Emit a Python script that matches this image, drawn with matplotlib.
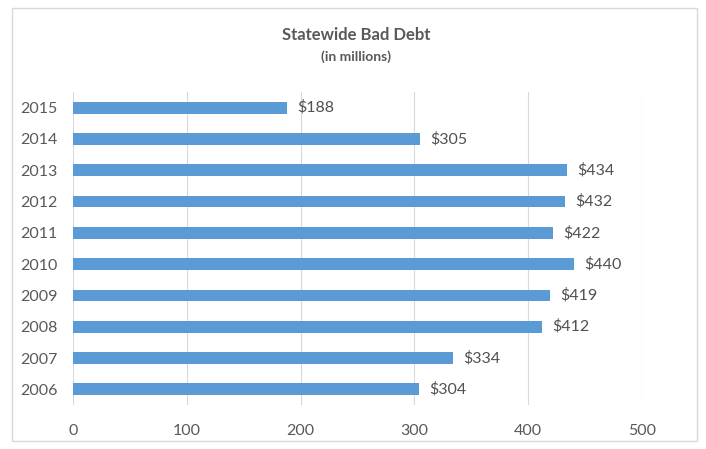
import matplotlib
matplotlib.use("Agg")
import matplotlib.pyplot as plt
from matplotlib.patches import Rectangle

years = ["2006", "2007", "2008", "2009", "2010", "2011", "2012", "2013", "2014", "2015"]
debt = [304, 334, 412, 419, 440, 422, 432, 434, 305, 188]
xticks = [0, 100, 200, 300, 400, 500]

plt.rcParams['font.family'] = ['Lato', 'DejaVu Sans']

fig = plt.figure(figsize=(7.06, 4.49), dpi=100)
fig.patches.append(Rectangle((12/706, 1-441/449), 685/706, 433/449, transform=fig.transFigure,
                             fill=False, edgecolor="#d9d9d9", linewidth=1))
ax = fig.add_axes([73/706, 1-405/449, (642-73)/706, (405-92)/449])

pos = range(len(years))
ax.barh(pos, debt, height=0.38, color="#5b9bd5")
for i, v in enumerate(debt):
    ax.text(v + 9, i, "$%d" % v, va="center", ha="left", fontsize=11.5, color="#505050")

ax.set_xlim(0, 500)
ax.set_ylim(-0.5, len(years) - 0.5)
ax.set_yticks(list(pos))
ax.set_yticklabels(years)
ax.set_xticks(xticks)
ax.tick_params(axis="both", length=0, labelsize=11.5, labelcolor="#595959")
ax.tick_params(axis="x", pad=14)
ax.tick_params(axis="y", pad=11)
ax.grid(axis="x", color="#d9d9d9", linewidth=0.8)
ax.set_axisbelow(True)
for s in ax.spines.values():
    s.set_visible(False)

fig.text(356/706, 1-35/449, "Statewide Bad Debt", ha="center", va="center",
         fontsize=12, fontweight="bold", color="#595959")
fig.text(356/706, 1-57/449, "(in millions)", ha="center", va="center",
         fontsize=10, fontweight="bold", color="#595959")

fig.savefig("out.png", dpi=100)
